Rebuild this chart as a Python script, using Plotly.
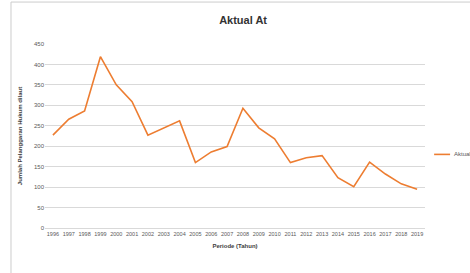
import plotly.graph_objects as go

years = [str(y) for y in range(1996, 2020)]
aktual = [227, 266, 286, 419, 350, 309, 227, 245, 262, 160, 186, 199,
          293, 245, 218, 160, 172, 177, 123, 101, 161, 132, 108, 95]
y_ticks = [0, 50, 100, 150, 200, 250, 300, 350, 400, 450]

FONT = "Liberation Sans Narrow, Liberation Sans, Arial, sans-serif"
ORANGE = "#ED7D31"

fig = go.Figure()
fig.add_trace(go.Scatter(x=years, y=aktual, mode="lines", name="Aktual At",
                         line=dict(color=ORANGE, width=1.6), showlegend=False))

fig.update_layout(
    template="none",
    width=470, height=273,
    margin=dict(l=45, r=45, t=44, b=45, autoexpand=False),
    paper_bgcolor="white", plot_bgcolor="white",
    font=dict(family=FONT, size=6, color="#595959"),
    title=dict(text="<b>Aktual At</b>", x=245 / 470, xanchor="center", y=1 - 20 / 273, yanchor="middle",
               xref="paper", font=dict(family=FONT, size=11, color="#333333")),
    xaxis=dict(type="category", range=[-0.5, 23.5], showgrid=False, showline=True, linecolor="#d9d9d9",
               ticks="", tickangle=0, automargin=False, tickfont=dict(size=5.5, color="#595959"),
               title=dict(text="<b>Periode (Tahun)</b>", font=dict(size=6, color="#404040"), standoff=8)),
    yaxis=dict(range=[0, 450], tickvals=y_ticks, showgrid=True, gridcolor="#d9d9d9",
               gridwidth=1, zeroline=False, showline=False, ticks="", automargin=False,
               tickfont=dict(size=6, color="#595959"),
               title=dict(text="<b>Jumlah Pelanggaran Hukum dilaut</b>",
                          font=dict(size=6, color="#404040"), standoff=10)),
    showlegend=False,
)

# frame
fig.add_shape(type="rect", xref="paper", yref="paper", x0=-0.0895, x1=1.3, y0=-0.5, y1=1.228,
              line=dict(color="#cccccc", width=1), fillcolor="rgba(0,0,0,0)", layer="above")
# legend (manual)
fig.add_shape(type="line", xref="paper", yref="paper", x0=1.024, x1=1.066, y0=0.4, y1=0.4,
              line=dict(color=ORANGE, width=1.6))
fig.add_annotation(text="Aktual At", xref="paper", yref="paper", x=1.07, y=0.4,
                   xanchor="left", yanchor="middle", showarrow=False,
                   font=dict(family=FONT, size=6, color="#595959"))

fig.write_html("out.html", config={"displayModeBar": False},
               post_script="document.body.style.margin='0';")
